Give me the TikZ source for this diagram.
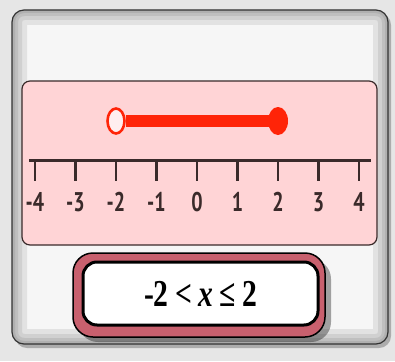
\documentclass[tikz,border=0pt]{standalone}
\usepackage{fontspec}
\setmainfont{Liberation Serif}
\newfontfamily\exprfont[FakeStretch=0.78, BoldFont={Liberation Serif Bold}, BoldItalicFont={Liberation Serif Bold Italic}]{Liberation Serif}
\newfontfamily\tickfont[FakeStretch=0.74]{PT Sans}
\usetikzlibrary{positioning, shapes.geometric}
\definecolor{cbg}{HTML}{E6E6E6}
\definecolor{ccard}{HTML}{F6F6F6}
\definecolor{cpink}{HTML}{FFD4D6}
\definecolor{cline}{HTML}{3A2A2A}
\definecolor{cred}{HTML}{FF2408}
\definecolor{crose}{HTML}{C8606E}
\tikzset{
  card/.style={draw=black!80, fill=ccard, line width=1.2pt, rounded corners=12pt,
    inner sep=0pt, outer sep=0pt,
    path picture={\foreach \w in {30,20,12,6}
      \draw[black, opacity=0.08, line width=\w pt, rounded corners=12pt]
        (path picture bounding box.north west) rectangle (path picture bounding box.south east);}},
  panel/.style={draw=cline, fill=cpink, line width=1.2pt, rounded corners=8pt, inner sep=0pt, outer sep=0pt},
  axis/.style={draw=cline, line width=3pt},
  tick/.style={draw=cline, line width=2.8pt},
  ticklabel/.style={font=\tickfont\bfseries\fontsize{27}{29}\selectfont, text=cline, inner sep=0pt},
  opendot/.style={ellipse, draw=cred, fill=cpink!40, line width=2.6pt, minimum width=17pt, minimum height=25pt, inner sep=0pt},
  shutdot/.style={ellipse, fill=cred, minimum width=20pt, minimum height=28pt, inner sep=0pt},
  bar/.style={draw=cred, line width=12pt},
  frame/.style={draw=black, fill=crose, line width=1.5pt, rounded corners=20pt, inner sep=0pt},
  exprbox/.style={draw=black, fill=white, line width=3pt, rounded corners=14pt, inner sep=0pt,
    font=\exprfont\bfseries\fontsize{38}{42}\selectfont},
}

\begin{document}
\begin{tikzpicture}[x=1pt, y=-1pt]
  \useasboundingbox (0,0) rectangle (395,361);
  \fill[cbg] (0,0) rectangle (395,361);
  % card and pink panel
  \fill[black, opacity=0.25, rounded corners=12pt] (15,13) rectangle (391,348);
  \node[card, anchor=north west, minimum width=376pt, minimum height=334pt] (card) at (12,10) {};
  \node[panel, anchor=north west, minimum width=355pt, minimum height=164pt] (panel) at (22,81) {};
  % number line
  \coordinate (lft) at (29,160);
  \coordinate (rgt) at (371,160);
  \draw[axis] (lft) -- (rgt);
  \foreach \n [count=\i] in {-4,...,4} {
    \coordinate (t\i) at ({197+40.5*\n},159);
    \draw[tick] (t\i) -- ++(0,22);
    \node[ticklabel] (lbl\i) at ({197+40.5*\n},202) {\n};
  }
  % interval
  \node[opendot] (lo) at (t3 |- 0,121) {};
  \node[shutdot] (hi) at (t7 |- 0,121) {};
  \draw[bar] (lo.east) -- (hi.center);
  % inequality
  \fill[black, opacity=0.35, rounded corners=20pt] (78,259) rectangle (331,342);
  \node[frame, minimum width=252pt, minimum height=84pt] (frame) at (199,295) {};
  \node[exprbox, minimum width=235pt, minimum height=63pt] (expr) at (200.5,293.5) {-2\,<\,\textit{x}\,≤\,2};
\end{tikzpicture}
\end{document}
